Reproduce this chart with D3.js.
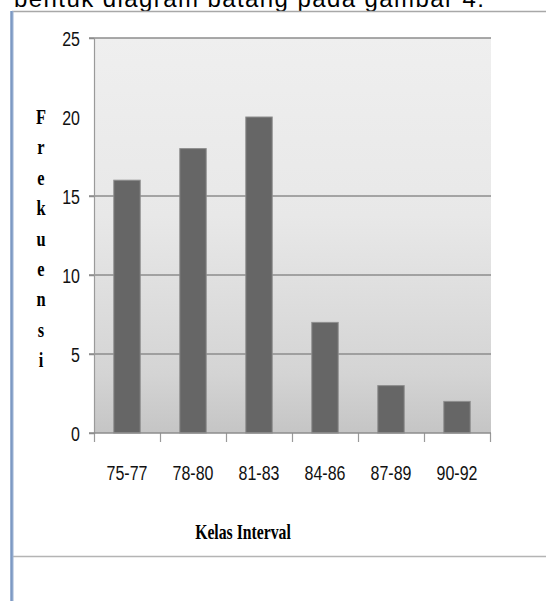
<!DOCTYPE html>
<html>
<head>
<meta charset="utf-8">
<script src="https://cdn.jsdelivr.net/npm/d3@7"></script>
<style>
  html, body { margin: 0; padding: 0; background: #fff; }
  svg { display: block; }
</style>
</head>
<body>
<svg id="chart" width="546" height="601"></svg>
<script>
// Frequency distribution of test scores by class interval
const categories = ["75-77", "78-80", "81-83", "84-86", "87-89", "90-92"];
const frequencies = [16, 18, 20, 7, 3, 2];
const yTickLabels = [0, 5, 10, 15, 20, 25];
const gridValues = [5, 10, 15, 25];
const yLabelLetters = ["F", "r", "e", "k", "u", "e", "n", "s", "i"];

const svg = d3.select("#chart");
const narrow = 0.82; // horizontal squeeze for the condensed axis lettering

// Caption line of the surrounding document
svg.append("text")
  .attr("x", 14).attr("y", 7)
  .attr("font-family", "Liberation Sans, Arial, sans-serif")
  .attr("font-size", 24)
  .attr("textLength", 470)
  .attr("lengthAdjust", "spacing")
  .attr("fill", "#000")
  .text("bentuk diagram batang pada gambar 4.");

// Chart frame
svg.append("line").attr("x1", 12).attr("x2", 546).attr("y1", 11.5).attr("y2", 11.5)
  .attr("stroke", "#a8a8a8").attr("stroke-width", 1.5);
svg.append("line").attr("x1", 12).attr("x2", 546).attr("y1", 556.5).attr("y2", 556.5)
  .attr("stroke", "#b4b4b4").attr("stroke-width", 1.5);
svg.append("rect").attr("x", 10).attr("y", 11).attr("width", 3.5).attr("height", 590)
  .attr("fill", "#9db3d3");
svg.append("line").attr("x1", 11.8).attr("x2", 11.8).attr("y1", 11).attr("y2", 601)
  .attr("stroke", "#6f8fbd").attr("stroke-width", 1);

const plot = { left: 94, right: 491, top: 38, bottom: 433 };

const x = d3.scaleBand()
  .domain(categories)
  .range([plot.left, plot.right - 1])
  .paddingInner(0.6)
  .paddingOuter(0.3);

const y = d3.scaleLinear().domain([0, 25]).range([plot.bottom, plot.top]);

// Plot area background gradient
const defs = svg.append("defs");
const grad = defs.append("linearGradient").attr("id", "plotBg")
  .attr("x1", 0).attr("y1", 0).attr("x2", 0).attr("y2", 1);
[[0, "#efefef"], [0.45, "#e8e8e8"], [0.85, "#d4d4d4"], [1, "#c5c5c5"]]
  .forEach(([o, c]) => grad.append("stop").attr("offset", o).attr("stop-color", c));

svg.append("rect")
  .attr("x", plot.left).attr("y", plot.top)
  .attr("width", plot.right - plot.left).attr("height", plot.bottom - plot.top)
  .attr("fill", "url(#plotBg)");

// Horizontal gridlines
svg.append("g").selectAll("line").data(gridValues).join("line")
  .attr("x1", plot.left - 5).attr("x2", plot.right)
  .attr("y1", d => y(d)).attr("y2", d => y(d))
  .attr("stroke", "#8c8c8c").attr("stroke-width", 1.5);

// Bars
svg.append("g").selectAll("rect").data(categories).join("rect")
  .attr("x", d => x(d))
  .attr("y", (d, i) => y(frequencies[i]))
  .attr("width", x.bandwidth())
  .attr("height", (d, i) => y(0) - y(frequencies[i]))
  .attr("fill", "#666666")
  .attr("stroke", "#8e8e8e").attr("stroke-width", 1);

// Y axis
const yAxis = svg.append("g")
  .attr("transform", `translate(${plot.left},0)`)
  .call(d3.axisLeft(y).tickValues(yTickLabels).tickSize(5).tickFormat(d3.format("d")));
yAxis.select(".domain").attr("stroke", "#9a9a9a").attr("stroke-width", 1.2);
yAxis.selectAll(".tick line").attr("stroke", "#8c8c8c").attr("stroke-width", 1.5)
  .attr("display", d => gridValues.includes(d) || d === 0 ? null : "none");
yAxis.selectAll(".tick text")
  .attr("font-family", "Liberation Sans, Arial, sans-serif")
  .attr("font-size", 19.5)
  .attr("fill", "#111")
  .attr("x", -14 / narrow)
  .attr("dy", "0.36em")
  .attr("transform", `scale(${narrow},1)`);

// X axis: tick marks at category boundaries, labels at category centres
const boundaries = d3.range(categories.length + 1);
const xb = d3.scaleLinear().domain([0, categories.length]).range([plot.left, plot.right - 1]);
const xAxisBounds = svg.append("g")
  .attr("transform", `translate(0,${plot.bottom})`)
  .call(d3.axisBottom(xb).tickValues(boundaries).tickSize(9).tickFormat(""));
xAxisBounds.select(".domain").remove();
xAxisBounds.selectAll(".tick line").attr("stroke", "#9a9a9a").attr("stroke-width", 1.2);

svg.append("line")
  .attr("x1", plot.left - 5).attr("x2", plot.right)
  .attr("y1", plot.bottom).attr("y2", plot.bottom)
  .attr("stroke", "#8c8c8c").attr("stroke-width", 1.5);

const xAxis = svg.append("g")
  .attr("transform", `translate(0,${plot.bottom})`)
  .call(d3.axisBottom(x).tickSize(0).tickPadding(33));
xAxis.select(".domain").remove();
xAxis.selectAll(".tick text")
  .attr("font-family", "Liberation Sans, Arial, sans-serif")
  .attr("font-size", 19.5)
  .attr("fill", "#111")
  .attr("transform", `scale(${narrow},1)`);

// Axis titles
svg.append("text")
  .attr("transform", "translate(243,539) scale(0.75,1)")
  .attr("text-anchor", "middle")
  .attr("font-family", "Liberation Serif, Times New Roman, serif")
  .attr("font-weight", "bold")
  .attr("font-size", 21)
  .attr("fill", "#000")
  .text("Kelas Interval");

svg.append("g").selectAll("text").data(yLabelLetters).join("text")
  .attr("transform", (d, i) => `translate(41,${124 + i * 30.4}) scale(0.78,1)`)
  .attr("text-anchor", "middle")
  .attr("font-family", "Liberation Serif, Times New Roman, serif")
  .attr("font-weight", "bold")
  .attr("font-size", 21)
  .attr("fill", "#000")
  .text(d => d);
</script>
</body>
</html>
